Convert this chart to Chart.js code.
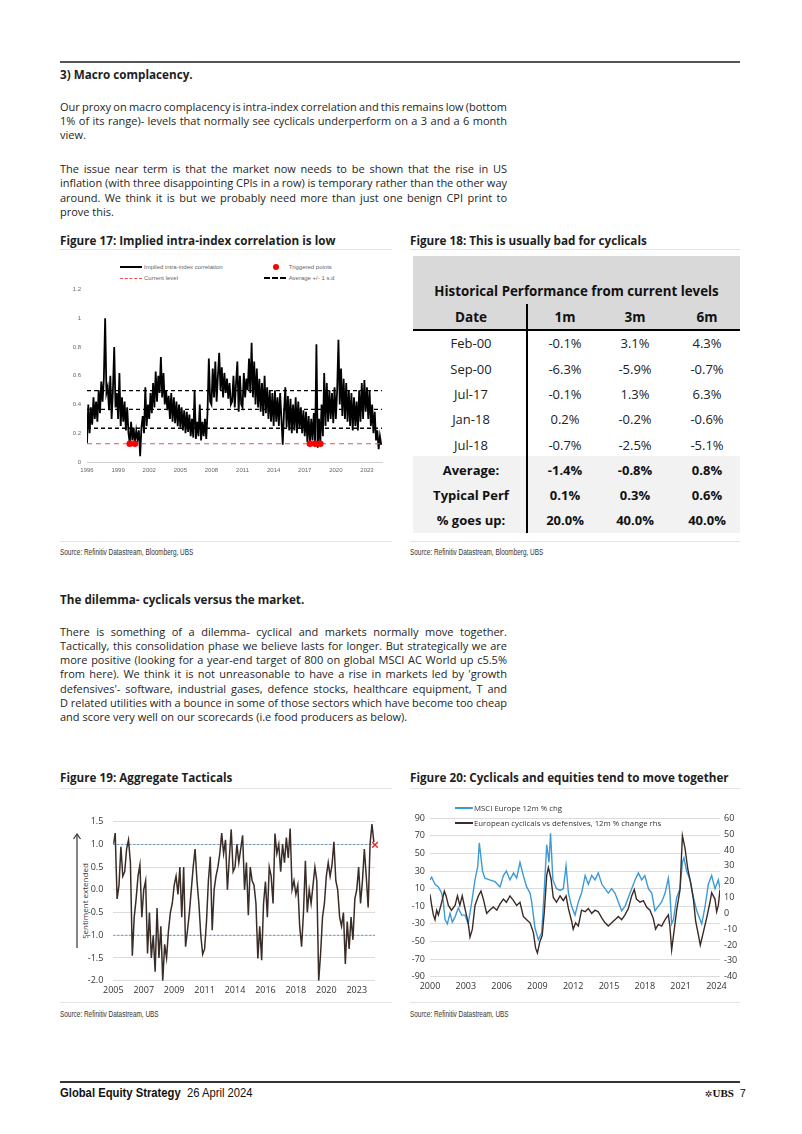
<!DOCTYPE html>
<html>
<head>
<meta charset="utf-8">
<script src="https://cdn.jsdelivr.net/npm/chart.js@4.4.0/dist/chart.umd.min.js"></script>
<style>
body { margin: 0; background: #fff; }
#page { position: relative; width: 802px; height: 1134px; overflow: hidden; font-family: "Open Sans", sans-serif; color: #1e1e1e; }
.abs { position: absolute; white-space: nowrap; }
.rule { position: absolute; height: 1px; background: #e4e4e4; }
.head { position: absolute; font-weight: 700; font-size: 11.7px; line-height: 16px; white-space: nowrap; }
.para { position: absolute; left: 60px; width: 447px; font-size: 11px; line-height: 14.33px; }
.para div { white-space: nowrap; height: 14.33px; }
.src { position: absolute; font-family: "Liberation Sans", sans-serif; font-size: 9.2px; line-height: 12px; color: #333; transform: scaleX(0.7); transform-origin: left center; white-space: nowrap; }
canvas { position: absolute; }
.lg { position: absolute; font-family: "Liberation Sans", sans-serif; font-size: 6px; color: #666; white-space: nowrap; line-height: 8px; }
.lg2 { position: absolute; font-size: 7.8px; color: #333; white-space: nowrap; line-height: 10px; }
.cell { position: absolute; text-align: center; font-size: 13px; line-height: 18px; white-space: nowrap; color: #222; }
</style>
</head>
<body>
<div id="page">
  <div class="abs" style="left:60px;top:61px;width:680px;height:2px;background:#555;"></div>

  <div class="head" style="left:60px;top:65.5px;">3) Macro complacency.</div>
  <div class="para" style="top:99.5px;">
    <div class="j"><span>Our proxy on macro complacency is intra-index correlation and this remains low (bottom</span></div>
    <div class="j"><span>1% of its range)- levels that normally see cyclicals underperform on a 3 and a 6 month</span></div>
    <div><span>view.</span></div>
  </div>
  <div class="para" style="top:161.9px;">
    <div class="j"><span>The issue near term is that the market now needs to be shown that the rise in US</span></div>
    <div class="j"><span>inflation (with three disappointing CPIs in a row) is temporary rather than the other way</span></div>
    <div class="j"><span>around. We think it is but we probably need more than just one benign CPI print to</span></div>
    <div><span>prove this.</span></div>
  </div>

  <div class="head" style="left:60px;top:232px;">Figure 17: Implied intra-index correlation is low</div>
  <div class="rule" style="left:60px;top:249px;width:332px;"></div>
  <div class="head" style="left:410px;top:232px;">Figure 18: This is usually bad for cyclicals</div>
  <div class="rule" style="left:410px;top:249px;width:330px;"></div>

  <!-- figure 17 legend -->
  <div class="abs" style="left:120px;top:265.7px;width:22px;height:2px;background:#000;"></div>
  <div class="lg" style="left:144px;top:262.7px;">Implied intra-index correlation</div>
  <div class="abs" style="left:272.5px;top:263.5px;width:6.5px;height:6.5px;border-radius:50%;background:#ff0000;"></div>
  <div class="lg" style="left:288.7px;top:262.7px;">Triggered points</div>
  <div class="abs" style="left:120px;top:277.8px;width:22px;height:0;border-top:1px dashed #e8524f;"></div>
  <div class="lg" style="left:144px;top:274.3px;">Current level</div>
  <div class="abs" style="left:264px;top:277.3px;width:22px;height:0;border-top:2px dashed #000;"></div>
  <div class="lg" style="left:288.7px;top:274.3px;">Average +/- 1 s.d</div>
  <canvas id="c17" width="332" height="198" style="left:60px;top:280px;"></canvas>

  <!-- figure 18 table -->
  <div class="abs" style="left:413px;top:256px;width:327px;height:73px;background:#d9d9d9;"></div>
  <div class="abs" style="left:413px;top:456px;width:327px;height:77px;background:#f2f2f2;"></div>
  <div class="abs" style="left:413px;top:329px;width:327px;height:2px;background:#000;"></div>
  <div class="abs" style="left:526px;top:304px;width:2px;height:229px;background:#000;"></div>
  <div id="table18"></div>

  <div class="rule" style="left:60px;top:541px;width:332px;"></div>
  <div class="src" style="left:60px;top:546px;">Source: Refinitiv Datastream, Bloomberg, UBS</div>
  <div class="rule" style="left:410px;top:541px;width:330px;"></div>
  <div class="src" style="left:410px;top:546px;">Source: Refinitiv Datastream, Bloomberg, UBS</div>

  <div class="head" style="left:60px;top:590.5px;">The dilemma- cyclicals versus the market.</div>
  <div class="para" style="top:624.5px;">
    <div class="j"><span>There is something of a dilemma- cyclical and markets normally move together.</span></div>
    <div class="j"><span>Tactically, this consolidation phase we believe lasts for longer. But strategically we are</span></div>
    <div class="j"><span>more positive (looking for a year-end target of 800 on global MSCI AC World up c5.5%</span></div>
    <div class="j"><span>from here). We think it is not unreasonable to have a rise in markets led by 'growth</span></div>
    <div class="j"><span>defensives'- software, industrial gases, defence stocks, healthcare equipment, T and</span></div>
    <div class="j"><span>D related utilities with a bounce in some of those sectors which have become too cheap</span></div>
    <div><span>and score very well on our scorecards (i.e food producers as below).</span></div>
  </div>

  <div class="head" style="left:60px;top:769px;">Figure 19: Aggregate Tacticals</div>
  <div class="rule" style="left:60px;top:788px;width:332px;"></div>
  <div class="head" style="left:410px;top:769px;">Figure 20: Cyclicals and equities tend to move together</div>
  <div class="rule" style="left:410px;top:788px;width:330px;"></div>

  <!-- figure 19 -->
  <svg class="abs" style="left:72px;top:832px;" width="10" height="118">
    <line x1="5" y1="116" x2="5" y2="2" stroke="#333" stroke-width="1.2"/>
    <polyline points="1.5,7 5,2 8.5,7" fill="none" stroke="#333" stroke-width="1.2"/>
  </svg>
  <div class="abs" style="left:45px;top:895px;width:80px;text-align:center;font-size:8px;line-height:12px;color:#333;transform:rotate(-90deg);">Sentiment extended</div>
  <canvas id="c19" width="332" height="194" style="left:60px;top:806px;"></canvas>

  <!-- figure 20 -->
  <canvas id="c20" width="340" height="200" style="left:405px;top:800px;"></canvas>
  <div class="abs" style="left:455px;top:807px;width:18px;height:1.5px;background:#3d9ad6;"></div>
  <div class="lg2" style="left:474px;top:802.7px;">MSCI Europe 12m % chg</div>
  <div class="abs" style="left:455px;top:822.3px;width:18px;height:1.5px;background:#3b2a26;"></div>
  <div class="lg2" style="left:474px;top:818px;">European cyclicals vs defensives, 12m % change rhs</div>

  <div class="rule" style="left:60px;top:1002px;width:332px;"></div>
  <div class="src" style="left:60px;top:1008px;">Source: Refinitiv Datastream, UBS</div>
  <div class="rule" style="left:410px;top:1002px;width:330px;"></div>
  <div class="src" style="left:410px;top:1008px;">Source: Refinitiv Datastream, UBS</div>

  <!-- footer -->
  <div class="abs" style="left:60px;top:1081px;width:680px;height:1.5px;background:#333;"></div>
  <div class="abs" style="left:60px;top:1085px;font-family:'Liberation Sans',sans-serif;font-size:12.5px;line-height:16px;color:#111;transform:scaleX(0.9);transform-origin:left center;">
    <b>Global Equity Strategy</b>&nbsp;&nbsp;26 April 2024</div>
  <div class="abs" style="left:705px;top:1085px;font-size:11px;line-height:16px;color:#111;">
    <span style="font-family:'DejaVu Sans',sans-serif;font-size:9px;">✲</span><span style="font-family:'Liberation Serif',serif;font-weight:700;">UBS</span>&nbsp;&nbsp;<span style="font-family:'Liberation Sans',sans-serif;">7</span></div>
</div>

<script>
// ---- Figure 17: implied intra-index correlation (8 readings per year from 1996)
const corrStartYear = 1996;
const corrPerYear = 8;
const corrValues = [
  0.13, 0.40, 0.20, 0.38, 0.26, 0.45, 0.30, 0.42, // 1996
  0.28, 0.50, 0.34, 0.56, 0.42, 0.58, 1.00, 0.48, // 1997
  0.52, 0.36, 0.60, 0.30, 0.50, 0.80, 0.38, 0.48, // 1998
  0.30, 0.62, 0.25, 0.45, 0.28, 0.42, 0.22, 0.38, // 1999
  0.20, 0.13, 0.28, 0.15, 0.24, 0.13, 0.22, 0.16, // 2000
  0.22, 0.04, 0.24, 0.32, 0.20, 0.52, 0.25, 0.40, // 2001
  0.30, 0.48, 0.34, 0.55, 0.38, 0.63, 0.42, 0.60, // 2002
  0.48, 0.73, 0.45, 0.62, 0.40, 0.50, 0.36, 0.46, // 2003
  0.30, 0.48, 0.28, 0.45, 0.27, 0.42, 0.25, 0.40, // 2004
  0.24, 0.38, 0.22, 0.36, 0.20, 0.35, 0.21, 0.33, // 2005
  0.18, 0.30, 0.17, 0.50, 0.16, 0.28, 0.18, 0.40, // 2006
  0.15, 0.28, 0.18, 0.30, 0.16, 0.35, 0.72, 0.42, // 2007
  0.40, 0.65, 0.45, 0.70, 0.42, 0.60, 0.76, 0.50, // 2008
  0.66, 0.45, 0.62, 0.48, 0.58, 0.44, 0.55, 0.40, // 2009
  0.42, 0.60, 0.38, 0.55, 0.70, 0.35, 0.60, 0.40, // 2010
  0.38, 0.62, 0.45, 0.58, 0.50, 0.72, 0.48, 0.83, // 2011
  0.45, 0.70, 0.40, 0.65, 0.38, 0.58, 0.35, 0.55, // 2012
  0.32, 0.60, 0.34, 0.52, 0.30, 0.50, 0.28, 0.48, // 2013
  0.25, 0.50, 0.28, 0.45, 0.25, 0.48, 0.30, 0.12, // 2014
  0.35, 0.52, 0.24, 0.46, 0.22, 0.44, 0.20, 0.40, // 2015
  0.22, 0.45, 0.20, 0.42, 0.23, 0.38, 0.20, 0.36, // 2016
  0.18, 0.35, 0.14, 0.32, 0.13, 0.30, 0.15, 0.34, // 2017
  0.13, 0.82, 0.10, 0.30, 0.13, 0.40, 0.18, 0.62, // 2018
  0.25, 0.55, 0.28, 0.50, 0.30, 0.48, 0.27, 0.52, // 2019
  0.30, 0.50, 0.85, 0.40, 0.65, 0.32, 0.58, 0.30, // 2020
  0.55, 0.28, 0.50, 0.25, 0.48, 0.22, 0.45, 0.25, // 2021
  0.42, 0.22, 0.50, 0.28, 0.55, 0.30, 0.57, 0.35, // 2022
  0.52, 0.30, 0.50, 0.25, 0.40, 0.20, 0.35, 0.15, // 2023
  0.22, 0.09, 0.18, 0.12                          // 2024
];
const corrBands = [0.235, 0.366, 0.497];   // average -1sd, average, +1sd
const corrCurrent = 0.127;
const triggerDates = [2000.125, 2000.625, 2017.5, 2018.0, 2018.5];
const corrYearTicks = [1996, 1999, 2002, 2005, 2008, 2011, 2014, 2017, 2020, 2023];
const corrEndYear = 2024.45;

// ---- Figure 18: historical performance table
const perfDates = ['Feb-00', 'Sep-00', 'Jul-17', 'Jan-18', 'Jul-18'];
const perf1m = [-0.1, -6.3, -0.1, 0.2, -0.7];
const perf3m = [3.1, -5.9, 1.3, -0.2, -2.5];
const perf6m = [4.3, -0.7, 6.3, -0.6, -5.1];
const summaryLabels = ['Average:', 'Typical Perf', '% goes up:'];
const summary1m = [-1.4, 0.1, 20.0];
const summary3m = [-0.8, 0.3, 40.0];
const summary6m = [0.8, 0.6, 40.0];

// ---- Figure 19: aggregate tacticals (16 readings per axis label step)
const tacticalTickLabels = ['2005', '2007', '2009', '2011', '2014', '2016', '2018', '2020', '2023'];
const tacticalPerLabel = 16;
const tacticalValues = [
  1.0, 1.25, -0.2, 0.1, 0.95, 0.3, 0.4, 0.9, 1.1, 0.6, -1.45, -0.6, -0.2, 0.3, 0.55, -0.6,
  0.0, 0.2, -1.4, -0.5, -1.5, -1.0, -1.8, -0.4, -1.5, -0.8, -2.0, -1.2, -1.5, -0.9, -0.5, -0.3,
  0.1, 0.3, -0.1, 0.5, -0.6, 0.5, -1.25, -0.9, -0.5, 0.0, 0.5, 0.9, 0.2, -0.3, -1.0, -1.42,
  -1.3, -0.7, 0.2, 0.73, -0.89, 0.0, 0.3, 0.5, 0.8, 1.25, 0.8, 1.1, 0.0, 0.7, 1.33, 0.4,
  0.5, 1.0, 0.6, 0.9, 1.2, 0.0, 0.6, -0.56, 0.5, 0.2, 0.1, -0.3, -1.51, -0.8, -1.55, -0.3,
  0.18, -0.6, 0.5, 0.3, -0.3, 1.24, 0.8, 1.0, 0.4, 1.0, 0.6, 1.15, 0.7, 1.35, 0.01, 0.2,
  -0.1, 0.1, -0.8, -1.25, -0.5, 0.64, -0.5, 0.0, -0.3, 0.1, 0.5, 0.2, -2.0, -1.4, -0.6, -0.3,
  0.3, 0.6, 0.3, 0.55, 1.06, 0.2, 0.0, -0.6, -0.8, -0.5, -1.63, -0.7, -1.3, -0.6, -1.1, -0.2,
  0.0, 0.5, -0.3, 0.2, 0.9, 0.3, -0.39, 1.0, 1.45, 1.05
];
const tacticalThresholds = [1.0, -1.0];
const tacticalSignal = { x: 137.6, y: 0.99 };

// ---- Figure 20: MSCI Europe vs cyclicals/defensives (decimal years)
const msciYears = [2000.0, 2000.14, 2000.42, 2000.7, 2000.98, 2001.12, 2001.26, 2001.45, 2001.68, 2001.87,
  2002.1, 2002.37, 2002.65, 2002.93, 2003.2, 2003.5, 2003.77, 2004.0, 2004.13, 2004.4, 2004.6, 2005.0,
  2005.45, 2005.87, 2006.15, 2006.4, 2006.7, 2007.0, 2007.26, 2007.54, 2007.82, 2008.1, 2008.38, 2008.52,
  2008.8, 2009.08, 2009.36, 2009.58, 2009.78, 2009.97, 2010.1, 2010.3, 2010.6, 2010.9, 2011.17, 2011.4,
  2011.6, 2011.87, 2012.15, 2012.43, 2012.7, 2013.0, 2013.27, 2013.55, 2013.83, 2014.1, 2014.4, 2014.67,
  2014.94, 2015.22, 2015.5, 2015.78, 2016.06, 2016.34, 2016.62, 2016.9, 2017.18, 2017.46, 2017.74, 2018.0,
  2018.3, 2018.58, 2018.85, 2019.13, 2019.41, 2019.7, 2019.97, 2020.1, 2020.25, 2020.4, 2020.67, 2020.95,
  2021.15, 2021.28, 2021.5, 2021.8, 2022.07, 2022.35, 2022.63, 2022.77, 2023.05, 2023.32, 2023.6, 2023.88,
  2024.16, 2024.3];
const msciChg = [20, 23, 15, 12, 5, -5, -25, -30, -18, -28,
  -22, -12, -20, -20, -30, -5, 20, 35, 62, 30, 22, 20,
  18, 12, 25, 30, 20, 28, 22, 40, 25, 12, 5, -5,
  -35, -48, -40, 10, 60, 40, 73, 20, 10, 8, 10, 36,
  5, -10, -20, -5, 5, 25, 15, 25, 20, 28, 15, 10,
  5, 10, 5, -5, -15, -10, 0, 10, 20, 28, 20, 25,
  10, 5, -15, -10, -5, 5, 22, 5, -30, -25, 0, 10,
  40, 45, 30, 20, 0, -15, -25, -30, -10, 15, 25, 10,
  20, 10];
const cycYears = [2000.0, 2000.14, 2000.28, 2000.42, 2000.56, 2000.7, 2000.98, 2001.2, 2001.35, 2001.54,
  2001.8, 2002.1, 2002.3, 2002.5, 2002.7, 2002.93, 2003.2, 2003.35, 2003.55, 2003.77, 2004.05, 2004.27,
  2004.47, 2004.75, 2005.0, 2005.3, 2005.6, 2005.87, 2006.15, 2006.4, 2006.7, 2007.0, 2007.26, 2007.54,
  2007.82, 2008.1, 2008.38, 2008.66, 2008.85, 2009.0, 2009.2, 2009.4, 2009.58, 2009.78, 2009.92, 2010.14,
  2010.33, 2010.6, 2010.9, 2011.17, 2011.4, 2011.6, 2011.87, 2012.0, 2012.2, 2012.43, 2012.7, 2013.0,
  2013.27, 2013.55, 2013.83, 2014.1, 2014.4, 2014.67, 2014.94, 2015.22, 2015.5, 2015.78, 2016.06, 2016.34,
  2016.62, 2016.9, 2017.12, 2017.3, 2017.6, 2017.88, 2018.15, 2018.43, 2018.7, 2018.9, 2019.13, 2019.41,
  2019.7, 2019.97, 2020.1, 2020.25, 2020.47, 2020.67, 2020.95, 2021.15, 2021.37, 2021.6, 2021.87, 2022.07,
  2022.26, 2022.5, 2022.65, 2022.9, 2023.18, 2023.46, 2023.6, 2023.88, 2024.02, 2024.16, 2024.3];
const cycChg = [12, 5, -1, -4, 2, -1, 7, 14, 11, 5,
  2, 5, 11, 5, 11, 3, -6, -15, -10, 5, 11, 14,
  9, 0, 2, 4, 2, 6, 9, 7, 11, 8, 5, 7,
  -2, -4, -6, -12, -22, -25, -18, -14, 1, 24, 29, 22,
  10, 7, 11, 8, 11, 3, -5, -10, -6, -8, 2, 1,
  3, 0, 2, 1, -3, -6, -8, -6, -4, -2, -4, -1,
  3, 11, 15, 9, 7, 8, 4, 2, -3, -10, -7, -8,
  -4, -1, -8, -23, -10, 2, 15, 49, 41, 28, 18, 9,
  -5, -14, -20, -12, -3, 7, 13, 9, 1, 5, 15];
const f20YearTicks = [2000, 2003, 2006, 2009, 2012, 2015, 2018, 2021, 2024];

// ---------------------------------------------------------------
function fixWidth(w) { return function (scale) { scale.width = w; }; }
function fixHeight(h) { return function (scale) { scale.height = h; }; }
function hLine(y, x0, x1) { return [{ x: x0, y: y }, { x: x1, y: y }]; }
const noGrid = { display: false, drawTicks: false };

// Figure 17
const tinyFont = { family: 'Liberation Sans', size: 6 };
new Chart(document.getElementById('c17'), {
  type: 'line',
  data: {
    datasets: [
      {
        data: triggerDates.map(d => ({ x: d, y: corrCurrent })),
        showLine: false, pointRadius: 3.3, pointBackgroundColor: '#ff0000', pointBorderWidth: 0, order: 0
      },
      ...corrBands.map(b => ({
        data: hLine(b, corrStartYear, corrEndYear), borderColor: '#000', borderWidth: 1.4,
        borderDash: [4, 3], pointRadius: 0, order: 1
      })),
      {
        data: hLine(corrCurrent, corrStartYear, corrEndYear), borderColor: '#e8524f', borderWidth: 1,
        borderDash: [5, 4], pointRadius: 0, order: 2
      },
      {
        data: corrValues.map((v, i) => ({ x: corrStartYear + i / corrPerYear, y: v })),
        borderColor: '#000', borderWidth: 1.8, pointRadius: 0, tension: 0, order: 3
      }
    ]
  },
  options: {
    responsive: false, animation: false, events: [],
    layout: { padding: { top: 4, right: 10, left: 0, bottom: 0 } },
    plugins: { legend: { display: false }, tooltip: { enabled: false } },
    scales: {
      x: {
        type: 'linear', min: corrStartYear, max: corrEndYear,
        afterBuildTicks: s => { s.ticks = corrYearTicks.map(v => ({ value: v })); },
        afterFit: fixHeight(16),
        grid: noGrid,
        border: { display: true, color: '#d0d0d0', width: 1 },
        ticks: { callback: v => String(v), font: tinyFont, color: '#666', padding: 4.5, maxRotation: 0 }
      },
      y: {
        min: 0, max: 1.2,
        afterFit: fixWidth(27),
        grid: noGrid, border: { display: false },
        ticks: { stepSize: 0.2, callback: v => String(+v.toFixed(1)), font: tinyFont, color: '#666', padding: 6 }
      }
    }
  }
});

// Figure 18 table
(function () {
  const host = document.getElementById('table18');
  const cols = [471, 565, 635, 707];
  const fmt = v => v.toFixed(1) + '%';
  function cell(text, cx, cy, style) {
    const d = document.createElement('div');
    d.className = 'cell';
    d.textContent = text;
    d.style.left = (cx - 60) + 'px';
    d.style.width = '120px';
    d.style.top = (cy - 9) + 'px';
    Object.assign(d.style, style || {});
    host.appendChild(d);
  }
  const titleStyle = { fontWeight: '700', fontSize: '13.3px', color: '#111' };
  cell('Historical Performance from current levels', 576.5, 290.7,
    Object.assign({}, titleStyle, { width: '320px', left: (576.5 - 160) + 'px' }));
  ['Date', '1m', '3m', '6m'].forEach((t, i) => cell(t, cols[i], 317.3, { fontWeight: '700', fontSize: '13.5px', color: '#111' }));
  const rowStep = 25.3;
  perfDates.forEach((d, r) => {
    const cy = 343.3 + r * rowStep;
    cell(d, cols[0], cy);
    cell(fmt(perf1m[r]), cols[1], cy);
    cell(fmt(perf3m[r]), cols[2], cy);
    cell(fmt(perf6m[r]), cols[3], cy);
  });
  summaryLabels.forEach((l, r) => {
    const cy = 343.3 + (perfDates.length + r) * rowStep;
    const b = { fontWeight: '700', color: '#111' };
    cell(l, cols[0], cy, b);
    cell(fmt(summary1m[r]), cols[1], cy, b);
    cell(fmt(summary3m[r]), cols[2], cy, b);
    cell(fmt(summary6m[r]), cols[3], cy, b);
  });
})();

// Figure 19
const midFont = { family: 'Open Sans', size: 9 };
new Chart(document.getElementById('c19'), {
  type: 'line',
  data: {
    datasets: [
      {
        data: [tacticalSignal], showLine: false, pointStyle: 'crossRot', pointRadius: 4,
        pointBorderColor: '#e0302a', pointBorderWidth: 1.5, clip: false, order: 0
      },
      {
        data: tacticalValues.map((v, i) => ({ x: i, y: v })),
        borderColor: '#3a2c27', borderWidth: 1.5, pointRadius: 0, tension: 0, order: 1
      },
      ...tacticalThresholds.map(t => ({
        data: hLine(t, 0, tacticalSignal.x), borderColor: '#5b8fbd', borderWidth: 1,
        borderDash: [2, 2], pointRadius: 0, order: 2
      }))
    ]
  },
  options: {
    responsive: false, animation: false, events: [],
    layout: { padding: { top: 15.7, right: 17, left: 0, bottom: 0 } },
    plugins: { legend: { display: false }, tooltip: { enabled: false } },
    scales: {
      x: {
        type: 'linear', min: 0, max: tacticalSignal.x,
        afterBuildTicks: s => { s.ticks = tacticalTickLabels.map((_, k) => ({ value: k * tacticalPerLabel })); },
        afterFit: fixHeight(19.3),
        grid: noGrid, border: { display: false },
        ticks: { callback: v => tacticalTickLabels[Math.round(v / tacticalPerLabel)], font: midFont, color: '#333', padding: 4.5, maxRotation: 0 }
      },
      y: {
        min: -2, max: 1.5,
        afterFit: fixWidth(53.3),
        grid: { color: '#dcdcdc', drawTicks: false }, border: { display: false },
        ticks: { stepSize: 0.5, callback: v => v.toFixed(1), font: midFont, color: '#333', padding: 10 }
      }
    }
  }
});

// Figure 20
new Chart(document.getElementById('c20'), {
  type: 'line',
  data: {
    datasets: [
      {
        data: cycYears.map((y, i) => ({ x: y, y: cycChg[i] })), yAxisID: 'y2',
        borderColor: '#3b2a26', borderWidth: 1.4, pointRadius: 0, tension: 0, order: 0
      },
      {
        data: msciYears.map((y, i) => ({ x: y, y: msciChg[i] })), yAxisID: 'y',
        borderColor: '#3d9ad6', borderWidth: 1.4, pointRadius: 0, tension: 0, order: 1
      }
    ]
  },
  options: {
    responsive: false, animation: false, events: [],
    layout: { padding: { top: 18.3, right: 0, left: 0, bottom: 0 } },
    plugins: { legend: { display: false }, tooltip: { enabled: false } },
    scales: {
      x: {
        type: 'linear', min: 2000, max: 2024.3,
        afterBuildTicks: s => { s.ticks = f20YearTicks.map(v => ({ value: v })); },
        afterFit: fixHeight(23.3),
        grid: noGrid, border: { display: false },
        ticks: { callback: v => String(v), font: midFont, color: '#333', padding: 4.5, maxRotation: 0 }
      },
      y: {
        position: 'left', min: -90, max: 90,
        afterFit: fixWidth(25),
        grid: { color: '#dcdcdc', drawTicks: false }, border: { display: false },
        ticks: { stepSize: 20, font: midFont, color: '#333', padding: 5 }
      },
      y2: {
        position: 'right', min: -40, max: 60,
        afterFit: fixWidth(25),
        grid: noGrid, border: { display: false },
        ticks: { stepSize: 10, font: midFont, color: '#333', padding: 4 }
      }
    }
  }
});

// justify each body line to the column width
document.querySelectorAll('.para .j').forEach(line => {
  const span = line.firstElementChild;
  const natural = span.getBoundingClientRect().width;
  const gaps = (span.textContent.match(/ /g) || []).length;
  if (gaps) span.style.wordSpacing = ((447 - natural) / gaps) + 'px';
});
</script>
</body>
</html>
